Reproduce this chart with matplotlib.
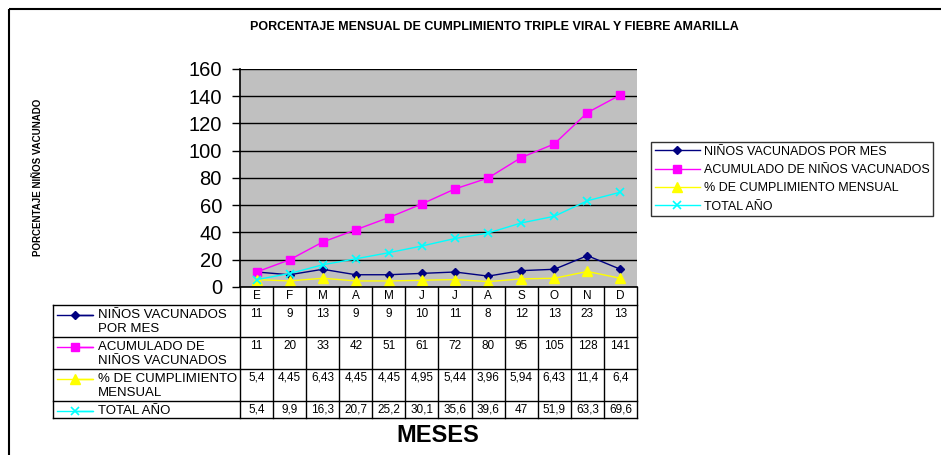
import matplotlib.pyplot as plt
from matplotlib.patches import Rectangle

plt.rcParams['font.family'] = ['Liberation Sans', 'DejaVu Sans']

# Datos mensuales
meses = ["E", "F", "M", "A", "M", "J", "J", "A", "S", "O", "N", "D"]
ninos_mes = [11, 9, 13, 9, 9, 10, 11, 8, 12, 13, 23, 13]
acumulado = [11, 20, 33, 42, 51, 61, 72, 80, 95, 105, 128, 141]
pct_mensual = [5.4, 4.45, 6.43, 4.45, 4.45, 4.95, 5.44, 3.96, 5.94, 6.43, 11.4, 6.4]
total_anio = [5.4, 9.9, 16.3, 20.7, 25.2, 30.1, 35.6, 39.6, 47, 51.9, 63.3, 69.6]

series = [
    ("NIÑOS VACUNADOS POR MES", ["NIÑOS VACUNADOS", "POR MES"], ninos_mes,
     dict(color="#000080", marker="D", markersize=4.5), lambda v: f"{v:g}"),
    ("ACUMULADO DE NIÑOS VACUNADOS", ["ACUMULADO DE", "NIÑOS VACUNADOS"], acumulado,
     dict(color="#ff00ff", marker="s", markersize=5.5), lambda v: f"{v:g}"),
    ("% DE CUMPLIMIENTO MENSUAL", ["% DE CUMPLIMIENTO", "MENSUAL"], pct_mensual,
     dict(color="#ffff00", marker="^", markersize=6.5), lambda v: f"{v:g}".replace(".", ",")),
    ("TOTAL AÑO", ["TOTAL AÑO"], total_anio,
     dict(color="#00ffff", marker="x", markersize=6, markeredgewidth=1.2),
     lambda v: f"{v:g}".replace(".", ",")),
]

W, H = 941, 455
fig = plt.figure(figsize=(W / 100, H / 100), dpi=100)


def fx(x):
    return x / W


def fy(y):
    return 1 - y / H


# zona de grafico
px_l, px_r, px_t, px_b = 240, 637, 69, 287
ax = fig.add_axes([fx(px_l), fy(px_b), fx(px_r - px_l), (px_b - px_t) / H])
ax.set_facecolor("#c0c0c0")
x = list(range(len(meses)))
for name, _, vals, style, _ in series:
    ax.plot(x, vals, lw=1, label=name, **style)
ax.set_xlim(-0.5, len(meses) - 0.5)
ax.set_ylim(0, 160)
ax.set_yticks(range(0, 161, 20))
ax.set_xticks([])
ax.tick_params(axis="y", labelsize=14.5, length=6, width=1, pad=7)
ax.yaxis.grid(True, color="black", lw=1)
ax.set_axisbelow(True)
for s in ("top", "right"):
    ax.spines[s].set_visible(False)
ax.spines["left"].set_linewidth(1.2)
ax.spines["bottom"].set_linewidth(1.2)

leg = fig.legend(loc="upper left", bbox_to_anchor=(fx(651), fy(142)),
                 fontsize=9, frameon=True, fancybox=False, borderpad=0.3,
                 handlelength=3.6, handletextpad=0.3, labelspacing=0.5,
                 borderaxespad=0)
leg.get_frame().set_edgecolor("black")
leg.get_frame().set_linewidth(1)

# capa para tabla, titulos y marco
ov = fig.add_axes([0, 0, 1, 1], zorder=-1)
ov.set_xlim(0, W)
ov.set_ylim(H, 0)
ov.axis("off")
ov.patch.set_alpha(0)

ov.add_patch(Rectangle((9, 9), W, H, fill=False, ec="black", lw=1.5))

fig.text(fx(494), fy(27), "PORCENTAJE MENSUAL DE CUMPLIMIENTO TRIPLE VIRAL Y FIEBRE AMARILLA",
         ha="center", va="center", fontsize=9, fontweight="bold")
fig.text(fx(38), fy(177), "PORCENTAJE NIÑOS VACUNADO", rotation=90,
         ha="center", va="center", fontsize=7, fontweight="bold")
fig.text(fx(438), fy(436), "MESES", ha="center", va="center",
         fontsize=17, fontweight="bold")

tab = fig.add_axes([0, 0, 1, 1])
tab.set_xlim(0, W)
tab.set_ylim(H, 0)
tab.axis("off")
tab.patch.set_alpha(0)

col_w = (px_r - px_l) / len(meses)
rows = [287, 305, 337, 369, 401, 418]
lbl_l = 53
for i in range(len(meses) + 1):
    xc = px_l + i * col_w
    tab.plot([xc, xc], [rows[0], rows[-1]], color="black", lw=1)
tab.plot([lbl_l, lbl_l], [rows[1], rows[-1]], color="black", lw=1)
for y in rows[1:]:
    tab.plot([lbl_l, px_r], [y, y], color="black", lw=1)
for i, m in enumerate(meses):
    tab.text(px_l + (i + 0.5) * col_w, rows[0] + 9, m, ha="center",
             va="center", fontsize=8.5)

for r, (_, lines, vals, style, fmt) in enumerate(series):
    top = rows[r + 1]
    tab.plot([57, 93, 75], [top + 10, top + 10, top + 10], lw=1,
             markevery=[2], **style)
    for k, line in enumerate(lines):
        tab.text(98, top + 10 + k * 14, line, ha="left", va="center", fontsize=9.5)
    for i, v in enumerate(vals):
        tab.text(px_l + (i + 0.5) * col_w, top + 9, fmt(v), ha="center",
                 va="center", fontsize=8.5)

fig.savefig("out.png", dpi=100)
